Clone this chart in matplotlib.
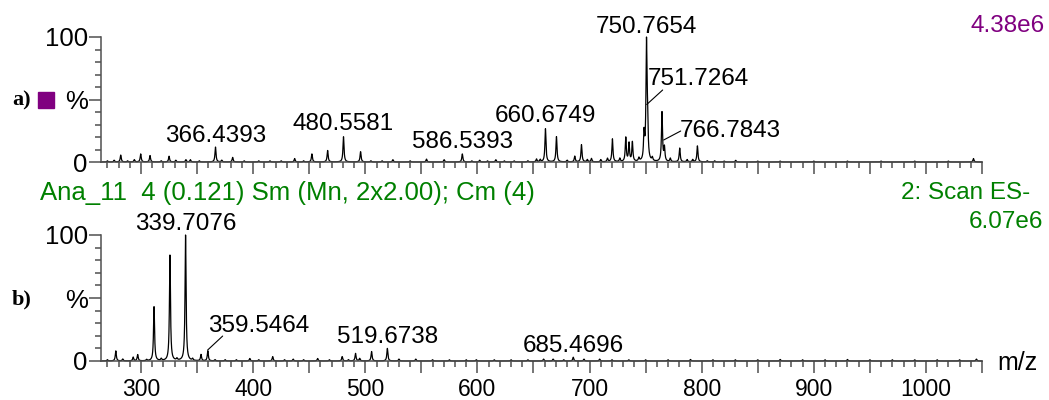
import numpy as np
import matplotlib
matplotlib.use("Agg")
import matplotlib.pyplot as plt
from matplotlib.ticker import MultipleLocator, FixedLocator

plt.rcParams['font.family'] = ['Liberation Sans', 'DejaVu Sans']

# ---- spectrum a): peak centres (m/z) and heights (% of base peak)
mz_a = [270.0, 276.0, 281.9, 288.0, 294.0, 299.7, 308.0, 318.0, 325.0,
        331.0, 340.0, 344.0, 352.0, 366.4, 372.0, 381.7, 392.0, 405.0,
        415.0, 425.0, 437.0, 445.0, 452.4, 466.4, 480.56, 495.8, 505.0,
        515.0, 524.6, 540.0, 554.6, 570.3, 586.54, 595.0, 602.0, 609.0,
        616.4, 624.0, 632.7, 645.0, 652.7, 656.0, 660.67, 670.5, 680.0,
        686.8, 692.8, 698.0, 701.7, 710.0, 716.0, 720.4, 727.0, 732.3,
        735.2, 738.2, 744.0, 748.6, 750.77, 751.73, 756.0, 764.6, 766.78,
        772.0, 780.4, 787.0, 792.0, 796.2, 805.0, 811.6, 820.0, 830.3,
        850.0, 870.0, 900.0, 930.0, 960.0, 990.0, 1020.0, 1042.4]
int_a = [1.0, 1.5, 6.0, 1.0, 2.0, 7.0, 5.6, 1.0, 5.0,
         1.5, 2.0, 2.0, 1.0, 13.0, 1.5, 4.0, 1.0, 1.0,
         1.0, 1.0, 3.0, 1.0, 7.0, 10.0, 22.0, 9.0, 1.0,
         1.0, 2.0, 1.0, 2.5, 2.0, 7.0, 1.0, 1.5, 1.0,
         2.0, 1.0, 1.0, 1.0, 2.5, 2.0, 29.0, 22.0, 1.5,
         5.0, 15.0, 2.0, 3.0, 2.0, 3.0, 20.0, 3.0, 21.0,
         16.0, 17.0, 3.0, 23.0, 100.0, 30.0, 3.0, 43.0, 12.0,
         3.0, 12.0, 2.0, 2.0, 14.0, 1.0, 1.0, 0.8, 1.5,
         0.8, 0.8, 0.8, 0.8, 0.8, 0.8, 0.8, 3.0]

# ---- spectrum b)
mz_b = [270.0, 277.5, 283.7, 293.0, 297.0, 305.0, 311.6, 318.0, 325.8,
        332.0, 339.71, 346.0, 353.5, 359.55, 366.0, 375.0, 385.0, 397.0,
        405.0, 417.4, 428.0, 435.7, 445.0, 457.5, 468.0, 479.4, 485.0,
        491.3, 495.0, 505.6, 519.67, 530.0, 545.0, 560.0, 575.0, 590.0,
        599.0, 615.0, 630.0, 645.0, 659.0, 667.5, 677.0, 685.47, 695.0,
        709.0, 720.0, 735.0, 750.0, 770.0, 790.0, 810.0, 830.0, 850.0,
        870.0, 890.0, 910.0, 930.0, 950.0, 970.0, 990.0, 1010.0, 1030.0,
        1045.0]
int_b = [1.0, 8.0, 1.5, 3.0, 5.0, 1.0, 43.0, 1.5, 84.0,
         1.5, 100.0, 1.5, 5.0, 8.0, 1.0, 1.0, 1.0, 2.0,
         1.0, 3.5, 1.0, 1.5, 1.0, 2.0, 1.0, 3.5, 1.0,
         6.0, 2.0, 7.5, 10.0, 1.5, 1.5, 1.0, 1.0, 1.0,
         1.0, 1.0, 1.0, 1.0, 1.5, 1.5, 1.0, 3.0, 1.5,
         1.5, 1.0, 1.0, 1.0, 1.0, 1.2, 1.0, 1.0, 1.0,
         1.2, 1.0, 1.0, 1.2, 1.0, 1.0, 1.0, 1.0, 1.0,
         1.5]

# ---- labelled peaks: text, x, baseline height of text (%)
labels_a = [("366.4393", 366.44, 16), ("480.5581", 480.56, 25.5),
            ("586.5393", 586.54, 11), ("660.6749", 660.67, 32),
            ("750.7654", 750.77, 103)]
# labels with a leader line: text, peak (x, y), line end (x, y), text left x, text baseline
leaders_a = [("751.7264", (751.0, 46), (765.2, 57.6), 751.8, 61.6),
             ("766.7843", (766.1, 17.6), (781.3, 24.8), 780.4, 20)]
labels_b = [("339.7076", 339.71, 104), ("519.6738", 519.67, 14),
            ("685.4696", 685.47, 7.4)]
leaders_b = [("359.5464", (359.4, 8.7), (372.8, 19.8), 359.7, 23.3)]

xticks_b = [300, 400, 500, 600, 700, 800, 900, 1000]

XMIN, XMAX = 264.3, 1050
GREEN = '#008000'
PURPLE = '#800080'
AXCOL = '#505050'
W, H = 1049, 400


def profile(mz, heights, grid, hw=0.55):
    """Sum of Lorentzian lines, scaled to 100 % at the base peak."""
    y = np.zeros_like(grid)
    for m, h in zip(mz, heights):
        y += h * hw**2 / ((grid - m)**2 + hw**2)
    return 100.0 * y / y.max()


def style_axis(ax, show_xlabels):
    ax.set_xlim(XMIN, XMAX)
    ax.set_ylim(0, 100)
    for s in ('top', 'right'):
        ax.spines[s].set_visible(False)
    for s in ('left', 'bottom'):
        ax.spines[s].set_color(AXCOL)
        ax.spines[s].set_linewidth(1.1)
    ax.xaxis.set_major_locator(MultipleLocator(50))
    ax.xaxis.set_minor_locator(MultipleLocator(10))
    ax.yaxis.set_major_locator(FixedLocator([0, 50, 100]))
    ax.yaxis.set_minor_locator(MultipleLocator(10))
    ax.set_yticklabels(['0', '%', '100'])
    ax.tick_params(axis='both', which='major', direction='out', color=AXCOL,
                   width=1.1, length=8.5)
    ax.tick_params(axis='both', which='minor', direction='out', color=AXCOL,
                   width=1.1, length=4.3)
    ax.tick_params(axis='y', labelsize=18.5, pad=1)
    ax.tick_params(axis='x', labelsize=16.5, pad=4)
    if show_xlabels:
        ticks = np.arange(300, 1051, 50)
        ax.set_xticks(ticks)
        ax.set_xticklabels([str(t) if t in xticks_b else '' for t in ticks])
    else:
        ax.set_xticklabels([])
    ax.patch.set_alpha(0)


def put_labels(ax, labels, leaders):
    for txt, x, yb in labels:
        ax.text(x, yb, txt, ha='center', va='baseline', fontsize=17.5,
                clip_on=False)
    for txt, p0, p1, tx, ty in leaders:
        ax.annotate('', xy=p0, xytext=p1, annotation_clip=False,
                    arrowprops=dict(arrowstyle='-', lw=0.8, color='black',
                                    shrinkA=0, shrinkB=0))
        ax.text(tx, ty, txt, ha='left', va='baseline', fontsize=17.5,
                clip_on=False)


grid = np.arange(XMIN, XMAX, 0.05)

fig = plt.figure(figsize=(W / 100, H / 100), dpi=100)
ax1 = fig.add_axes([101 / W, 1 - 162 / H, 881 / W, 125 / H])
ax2 = fig.add_axes([101 / W, 1 - 361 / H, 881 / W, 126 / H])

ax1.plot(grid, profile(mz_a, int_a, grid), color='black', lw=0.9,
         clip_on=False)
ax2.plot(grid, profile(mz_b, int_b, grid), color='black', lw=0.9,
         clip_on=False)

style_axis(ax1, False)
style_axis(ax2, True)
put_labels(ax1, labels_a, leaders_a)
put_labels(ax2, labels_b, leaders_b)


def fig_xy(px, py):
    return px / W, 1 - py / H


# header texts
fig.text(*fig_xy(1045, 26), '4.38e6', color=PURPLE, fontsize=17.5,
         ha='right', va='center')
fig.text(*fig_xy(40, 193), 'Ana_11  4 (0.121) Sm (Mn, 2x2.00); Cm (4)',
         color=GREEN, fontsize=18.5, ha='left', va='center')
fig.text(*fig_xy(1030, 193), '2: Scan ES-', color=GREEN, fontsize=17.5,
         ha='right', va='center')
fig.text(*fig_xy(1043, 222), '6.07e6', color=GREEN, fontsize=17.5,
         ha='right', va='center')
fig.text(*fig_xy(997, 363), 'm/z', fontsize=18, ha='left', va='center')

# panel tags
fig.text(*fig_xy(12, 100), 'a)', family=['Liberation Serif'],
         weight='bold', fontsize=16, ha='left', va='center')
fig.patches.append(plt.Rectangle(fig_xy(38, 108), 16 / W, 16 / H,
                                 transform=fig.transFigure, color=PURPLE,
                                 figure=fig))
fig.text(*fig_xy(12, 299), 'b)', family=['Liberation Serif'],
         weight='bold', fontsize=16, ha='left', va='center')

fig.savefig('out.png', dpi=100)
